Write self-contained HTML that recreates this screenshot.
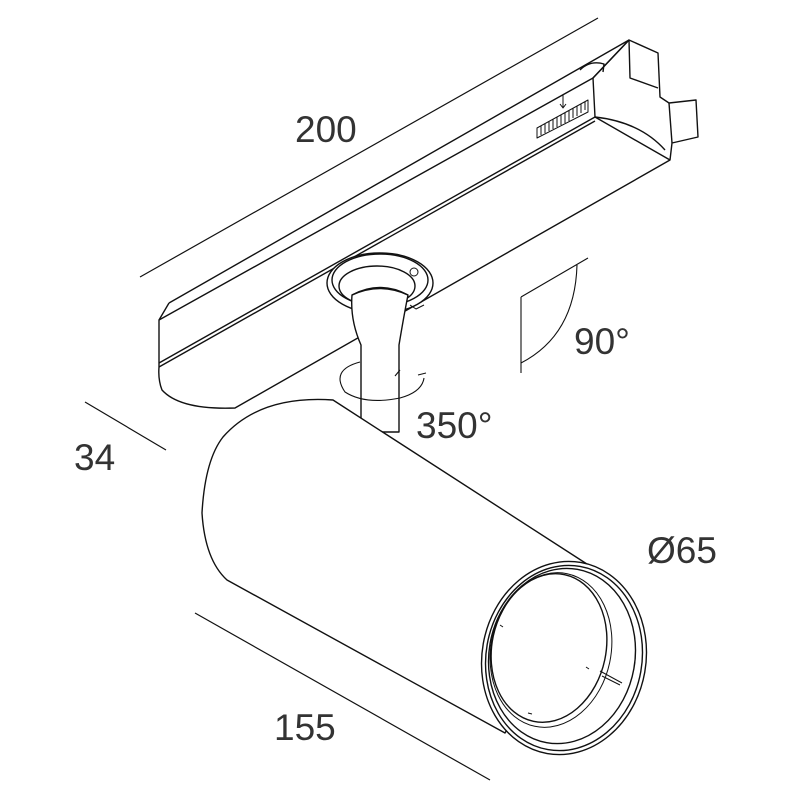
<!DOCTYPE html>
<html><head><meta charset="utf-8"><style>
html,body{margin:0;padding:0;background:#fff;width:800px;height:800px;overflow:hidden}
svg{display:block}
text{font-family:"Liberation Sans",sans-serif;font-size:37px;fill:#333;stroke:none;font-weight:normal}
</style></head><body>
<svg width="800" height="800" viewBox="0 0 800 800" fill="none" stroke="#111" stroke-width="1.4" stroke-linejoin="round">
<line x1="140" y1="277" x2="598" y2="18" stroke-width="1.2"/>
<line x1="85" y1="402" x2="166" y2="450" stroke-width="1.2"/>
<line x1="195" y1="613" x2="490" y2="780" stroke-width="1.2"/>
<path d="M159,320 L593,78 L629,40 L658,53 L660,97 L669,103 L696,100 L698,137 L672,143 L670,160 L235,408 Q180,410 162,390 Q158,380 159,367 Z" fill="#fff"/>
<path d="M169,303 L629,40"/>
<path d="M159,320 L169,303 M593,78 L629,40"/>
<path d="M593,78 L595,117 L670,160"/>
<path d="M159,363 L595,117"/>
<path d="M159,367 L595,121"/>
<path d="M595,117 Q640,122 665,150"/>
<path d="M580,70 Q590,60 604,64 L603,72"/>
<path d="M629,40 L630,78 L658,88"/>
<path d="M669,103 L672,143"/>
<g stroke-width="1">
<path d="M537,128 L588,100 L588,112 L537,138 Z"/>
<path d="M541,126v9 M545,124v9 M549,121v10 M553,119v10 M557,117v10 M561,115v10 M565,113v10 M569,110v11 M573,108v10 M577,106v10 M581,104v9 M585,102v8"/>
<path d="M563,95v12 M560,104l3,4l3,-4"/>
</g>
<ellipse cx="380" cy="283" rx="53" ry="30" fill="#fff"/>
<ellipse cx="380" cy="280" rx="48" ry="26"/>
<ellipse cx="377" cy="286" rx="38" ry="20"/>
<circle cx="414" cy="272" r="4" stroke-width="1"/>
<path d="M410,305 l6,4 l8,-4" stroke-width="1"/>
<path d="M352,295 Q350,320 361,345 L361,432 L399,432 L399,345 Q404,315 408,295 Q380,280 352,295 Z" fill="#fff"/>
<path d="M352,295 Q380,282 408,295" />
<path d="M360,362 Q330,370 345,392 Q365,405 400,398 Q422,392 424,378" stroke-width="1.1"/>
<path d="M418,375 L426,373" stroke-width="1.1"/>
<path d="M395,376 L400,370" stroke-width="1.1"/>
<path d="M521,297 L521,373 M521,297 L588,258 M577,265 Q575,335 521,363" stroke-width="1.1"/>
<path d="M333,400 L590,566 L560,640 L505,733 L227,580 Q205,560 202,513 Q205,460 223,437 Q260,395 333,400 Z" fill="#fff"/>
<ellipse cx="564" cy="658" rx="82" ry="97" transform="rotate(10 564 658)" fill="#fff"/>
<ellipse cx="564" cy="658" rx="78" ry="93" transform="rotate(10 564 658)"/>
<ellipse cx="562" cy="656" rx="73" ry="88" transform="rotate(10 562 656)"/>
<ellipse cx="549" cy="648" rx="57" ry="75" transform="rotate(12 549 648)"/>
<ellipse cx="551" cy="650" rx="60" ry="78" transform="rotate(12 551 650)" stroke-width="1"/>
<path d="M600,671 L622,683 M602,676 L620,685" stroke-width="1"/>
<path d="M500,625 l3,2 M586,667 l3,2 M528,713 l4,1" stroke-width="1"/>
<text x="295" y="142">200</text>
<text x="574" y="354">90°</text>
<text x="416" y="438">350°</text>
<text x="74" y="470">34</text>
<text x="647" y="563">Ø65</text>
<text x="274" y="740">155</text>
</svg>
</body></html>
